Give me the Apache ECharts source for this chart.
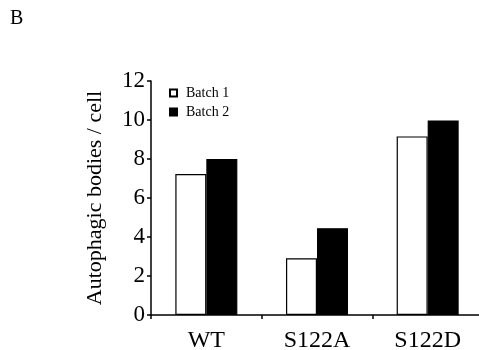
<!DOCTYPE html>
<html><head><meta charset="utf-8">
<script src="https://cdn.jsdelivr.net/npm/echarts@6/dist/echarts.min.js"></script>
<style>html,body{margin:0;padding:0;background:#fff}#c{width:479px;height:350px}</style>
</head><body><div id="c"></div>
<script>
const categories = ["WT", "S122A", "S122D"];
const batch1 = [7.23, 2.91, 9.16];
const batch2 = [8.0, 4.45, 9.98];
const yTicks = [0, 2, 4, 6, 8, 10, 12];
const seriesNames = ["Batch 1", "Batch 2"];
const yName = "Autophagic bodies / cell";
const panelLabel = "B";

const FONT = '"Liberation Serif", "DejaVu Serif", serif';
const chart = echarts.init(document.getElementById('c'), null, {renderer: 'canvas'});
chart.setOption({
  animation: false,
  backgroundColor: '#fff',
  graphic: [{type: 'text', left: 10, top: 9, style: {text: panelLabel, font: '20px ' + FONT, fill: '#000'}}],
  legend: {
    orient: 'vertical', left: 164, top: 81, itemWidth: 7, itemHeight: 7, itemGap: 5,
    icon: 'rect',
    textStyle: {fontFamily: FONT, fontSize: 14, color: '#000', padding: [0, 0, 0, 4]},
    data: seriesNames
  },
  grid: {left: 151, top: 81, width: 332, height: 234, containLabel: false, outerBoundsMode: 'none'},
  xAxis: {
    type: 'category', data: categories,
    axisLine: {lineStyle: {color: '#000', width: 1.5}},
    axisTick: {show: true, length: 4, lineStyle: {color: '#000', width: 1.5}},
    axisLabel: {fontFamily: FONT, fontSize: 24, color: '#000', margin: 14}
  },
  yAxis: {
    type: 'value', min: 0, max: 12, interval: 2,
    name: yName, nameLocation: 'middle', nameGap: 45, nameRotate: 90,
    nameTextStyle: {fontFamily: FONT, fontSize: 22, color: '#000'},
    axisLine: {show: true, lineStyle: {color: '#000', width: 1.5}},
    axisTick: {show: true, length: 4, lineStyle: {color: '#000', width: 1.5}},
    axisLabel: {fontFamily: FONT, fontSize: 23, color: '#000', margin: 6,
      formatter: v => yTicks.includes(v) ? String(v) : ''},
    splitLine: {show: false}
  },
  series: [
    {name: seriesNames[0], type: 'bar', data: batch1, barWidth: 31, barGap: '0%',
     itemStyle: {color: '#fff', borderColor: '#000', borderWidth: 1.2}},
    {name: seriesNames[1], type: 'bar', data: batch2, barWidth: 31, barGap: '0%',
     itemStyle: {color: '#000', borderColor: '#000', borderWidth: 1.2}}
  ]
});
</script></body></html>
